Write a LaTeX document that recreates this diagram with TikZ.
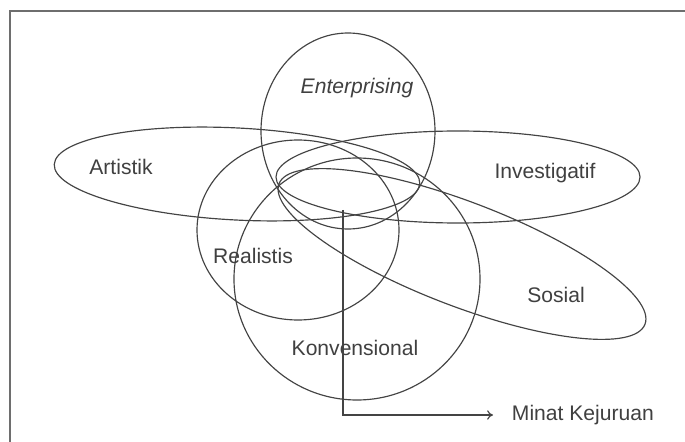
\documentclass[tikz,border=0pt]{standalone}
\usepackage{fontspec}
\setmainfont{Liberation Sans}
\usetikzlibrary{arrows.meta}
\definecolor{inkgray}{HTML}{444444}
\definecolor{textgray}{HTML}{404040}
\definecolor{framegray}{HTML}{6E6E6E}
\begin{document}
\begin{tikzpicture}[x=0.3mm,y=-0.3mm,
  ring/.style={draw=inkgray,line width=1pt},
  lbl/.style={text=textgray,font=\fontsize{18}{21}\selectfont}]
\useasboundingbox (0,0) rectangle (685,442);
\draw[framegray,line width=1.3pt] (10,11) rectangle (720,480);
\draw[ring] (348,131) ellipse [x radius=87,y radius=98];
\draw[ring,rotate around={-3:(237,174)}] (237,174) ellipse [x radius=183,y radius=46];
\draw[ring] (458,177) ellipse [x radius=182,y radius=46];
\draw[ring] (298,230) ellipse [x radius=101,y radius=90];
\draw[ring] (357,279) ellipse [x radius=123,y radius=121];
\draw[ring,rotate around={-21:(462,254)}] (462,254) ellipse [x radius=196,y radius=52];
\node[lbl,font=\fontsize{18}{21}\selectfont\itshape] (ent) at (357,88) {Enterprising};
\node[lbl] (art) at (121,167) {Artistik};
\node[lbl] (inv) at (545,173) {Investigatif};
\node[lbl] (rea) at (253,256) {Realistis};
\node[lbl] (sos) at (556,295) {Sosial};
\node[lbl] (kon) at (355,348) {Konvensional};
\node[lbl,anchor=west,inner xsep=16pt] (minat) at (493,415) {Minat Kejuruan};
\coordinate (src) at (343,210);
\draw[inkgray,line width=1pt,-{To[length=5pt,width=8pt]}] (src) |- (minat);
\end{tikzpicture}
\end{document}
